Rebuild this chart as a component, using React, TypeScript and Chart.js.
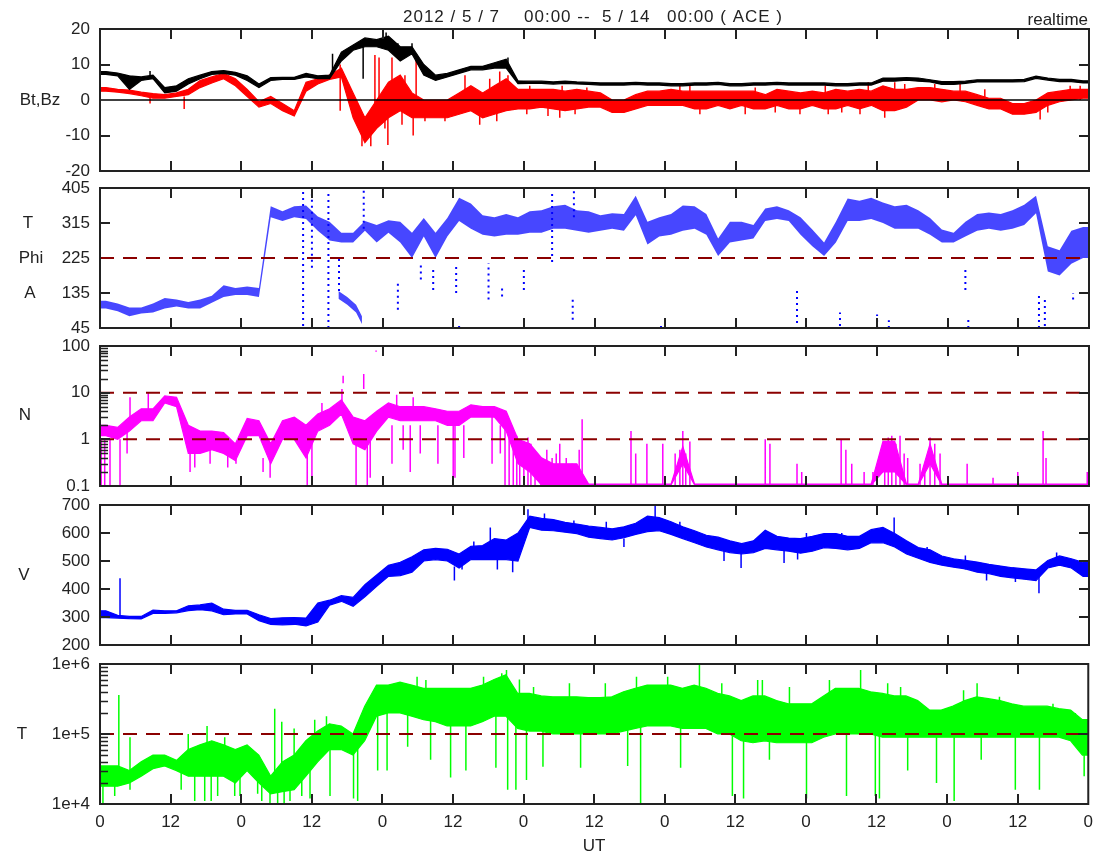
import { useEffect, useRef } from "react";
import { Chart, registerables } from "chart.js";

Chart.register(...registerables);

const FONT = "'Liberation Sans', Arial, sans-serif";
const FS = 17;
const INK = "#222";
const REF = "#8b0000";

// ---- time axis: hours since 2012-05-07 00:00 UT; series are read per 2-hour slot ----
const SLOT_H = 2;
const X_MAX = 168;
const xTickHours = [0, 12, 24, 36, 48, 60, 72, 84, 96, 108, 120, 132, 144, 156, 168];
const xTickLabels = ["0", "12", "0", "12", "0", "12", "0", "12", "0", "12", "0", "12", "0", "12", "0"];

const headerParts = ["2012 / 5 / 7", "00:00 --", "5 / 14", "00:00 ( ACE )"];
const cornerText = "realtime";

// ---- Bt / Bz (nT): body low / high per slot, plus narrow excursions [hour, from, to] ----
const btLo = [7.2, 6.8, 3, 5.5, 6, 2, 2.5, 4.5, 6, 7.2, 7.5, 7, 5.5, 3.5, 5.5, 5.8, 5.8, 6.5, 6, 6, 11, 14, 15, 15, 14, 11, 13, 7, 5.5, 6.5, 7.5, 8.5, 8.5, 9, 9, 4.6,
  4.7, 4.7, 4.5, 4.7, 4.5, 4.4, 4.2, 4.2, 4.2, 4.4, 4.2, 4.2,
  4, 4, 4.2, 4.2, 4.4, 4, 4, 4.2, 4.2, 4.4, 4.2, 4.2, 4.2, 4.2, 4, 4, 4.2, 4.2, 5.3, 5.3, 5.6, 5.3, 5.1, 4.4, 4.4, 4.7, 5.1, 5.1, 5.1, 5.1, 5.2, 6.1, 5.6, 5.2, 5.2, 4.8];
const btHi = [8, 7.6, 6.8, 6.5, 7, 3.5, 4, 6, 7, 8, 8.3, 7.8, 6.8, 4.5, 6.3, 6.4, 6.4, 7.5, 6.8, 7, 13.5, 15.5, 17.5, 17, 18, 15, 15, 10, 7, 7.5, 8.5, 9.5, 9.5, 10.5, 11.5, 5.4,
  5.3, 5.3, 5.1, 5.3, 5.1, 5, 4.8, 4.8, 4.8, 5, 4.8, 4.8,
  4.6, 4.6, 4.8, 4.8, 5, 4.6, 4.6, 4.8, 4.8, 5, 4.8, 4.8, 4.8, 4.8, 4.6, 4.6, 4.8, 4.8, 6.2, 6.2, 6.3, 6.2, 5.7, 5.2, 5.2, 5.3, 5.7, 5.7, 5.7, 5.7, 5.8, 6.7, 6.2, 5.8, 5.8, 5.4];
const btSpikes = [[44.7, 16, 6], [48.6, 16, 19], [50.6, 12, 16], [53, 13, 16], [69.3, 10, 12], [39.5, 8, 13], [8.5, 6.5, 8.2]];

const bzLo = [2.5, 2.2, 1.8, 1.2, 0.5, 0.5, 1, 1.5, 3.5, 4.8, 6, 4, 1, -2, -1, -3, -4.5, 2.5, 4.5, 5.8, 6.5, -5, -12, -8, -5, -3, -5, -5, -5, -5, -4, -3, -5, -4, -3, -2.5,
  -2.5, -2, -2.5, -3, -2.5, -2, -2, -3.5, -3.5, -2.5, -1.5, -1.5,
  -1.5, -1.5, -2.5, -2.5, -1.5, -2.5, -1.5, -2.5, -2.5, -1.5, -2.5, -2.5, -1.5, -2.5, -2.5, -1.5, -2.5, -1.5, -3, -3, -2, 0, 0, -0.5, 0, -0.5, -1.5, -2.5, -2.5, -4, -4, -3.5, -1.5, -0.5, 0, 0.5];
const bzHi = [3.5, 3, 2.8, 2.2, 1.8, 1.5, 2, 3, 5.5, 6.5, 7.5, 6, 3, -0.5, 1, -1, -3, 5, 6, 7, 9, 2, -5, 0, 5, 7, 2, 0, 0, 0, 2, 4, 2, 4, 6, 3,
  3, 3, 3, 2.5, 3, 2.5, 2, 0, 0, 1.5, 2.5, 2.5,
  3, 2.5, 2.5, 2.5, 2.5, 2.5, 2.5, 2.5, 1.5, 3, 2.5, 2, 2.5, 2, 3, 2.5, 3, 2.5, 4, 3, 3, 3.5, 3.5, 3, 2.5, 2.5, 1.5, 0.5, 0.5, -1, -1, 0, 2, 2.5, 3, 3];
const bzSpikes = [[8.5, 1, -1], [14.3, 1, -2.5], [40.8, -3, 10], [44.5, -8, -13], [46, -6, -13], [46.7, -2, 12.7], [47.4, 0, 12], [48.4, 0, -8],
  [48.9, 0, -12.7], [49.6, 0, 12], [51.3, 0, -7], [51.8, 0, 7], [53.2, -2, -10], [53.7, 0, 12], [55.2, -2, -6], [58.6, -2, -6], [62, 0, 7],
  [64.5, -2, -7], [66.2, 0, 6], [67.4, 0, -6], [67.9, 2, 8], [69.3, 2, 7], [72.5, 0, -4], [73, 0, 4], [76.1, 0, -4.5], [78.1, 0, -5],
  [78.5, 0, 4], [80.7, 0, -4], [82.7, 0, 3.5], [98.5, 0, 4], [100.2, 0, 4], [101.9, 0, -4], [109.6, 0, -4], [111.3, 0, 3.5], [114.7, 0, -3.5],
  [118.9, 0, -4], [123.2, 0, 4], [123.7, 0, -4], [126, 0, -3.5], [129.1, 0, -4], [130.5, 0, 5], [133.3, 0, -5], [135, 0, 5], [136.7, 0, 4.5],
  [141.8, 0, 4.5], [146.1, 0, 4.5], [150.3, 0, 3], [159.7, -2, -5.5], [161, 0, -3.5], [164.8, 0, 4], [166.5, 0, 4]];

// ---- Phi angle (deg) ----
const phiLo = [95, 88, 75, 82, 85, 95, 100, 95, 95, 110, 125, 130, 130, 125, 330, 320, 330, 325, 295, 270, 265, 265, 295, 265, 290, 265, 225, 280, 225, 280,
  320, 300, 285, 280, 285, 285, 290, 290, 300, 300, 295, 290, 295, 300, 295, 335, 260, 280, 285, 295, 300, 285, 230, 265, 270, 275, 320, 325, 320, 285,
  255, 230, 265, 320, 320, 325, 315, 300, 300, 300, 285, 265, 265, 280, 295, 300, 295, 300, 310, 340, 190, 180, 210, 225];
const phiHi = [115, 108, 98, 98, 108, 122, 118, 112, 118, 128, 155, 148, 152, 148, 358, 345, 358, 360, 332, 318, 290, 290, 320, 310, 322, 318, 290, 328, 290, 328,
  380, 365, 335, 330, 338, 330, 345, 348, 358, 362, 348, 345, 335, 340, 338, 385, 318, 330, 338, 360, 358, 338, 275, 318, 318, 310, 352, 358, 348, 330,
  298, 265, 318, 378, 372, 380, 368, 358, 362, 348, 328, 298, 290, 318, 338, 342, 338, 348, 362, 385, 255, 245, 295, 305];
// secondary (low) Phi branch around 7 May 17h-20h: [hour, low, high]
const phiBranch = [[40.5, 120, 140], [42, 105, 125], [43.5, 85, 105], [44.5, 55, 75]];
const phiStreaks = [[34.5, 50, 405], [36, 200, 400], [38.8, 45, 400], [40.6, 140, 230], [44.8, 300, 400], [50.6, 92, 160], [54.5, 170, 212],
  [56.6, 143, 195], [60.5, 135, 204], [61, 45, 60], [66, 118, 212], [68.3, 126, 150], [72, 143, 204], [76.8, 215, 390], [80.3, 66, 126],
  [80.5, 330, 400], [95.3, 45, 55], [118.4, 58, 150], [125.7, 50, 85], [132, 45, 80], [134, 45, 65], [147, 143, 204], [147.5, 45, 70],
  [159.5, 45, 135], [160.5, 50, 120], [165.3, 118, 135]];

// ---- N density (cm^-3) ----
const nLo = [1.2, 1, 1.5, 2.5, 2.5, 6, 5, 0.5, 0.5, 0.6, 0.5, 0.35, 1.2, 1.2, 0.3, 1, 1, 0.4, 1.5, 2, 3.5, 0.8, 0.6, 1.5, 3, 2.5, 2.5, 2.5, 2.5, 2,
  2, 3, 3, 3, 1.5, 0.3, 0.2, 0.105, 0.105, 0.105, 0.105, 0.105, 0.105, 0.105, 0.105, 0.105, 0.105, 0.105, 0.105, 0.3, 0.105, 0.105,
  0.105, 0.105, 0.105, 0.105, 0.105, 0.105, 0.105, 0.105, 0.105, 0.105, 0.105, 0.105, 0.105, 0.105, 0.2, 0.2, 0.105, 0.105, 0.3, 0.105,
  0.105, 0.105, 0.105, 0.105, 0.105, 0.105, 0.105, 0.105, 0.105, 0.105, 0.105, 0.105];
const nHi = [2, 1.8, 3, 4.5, 4.5, 8.5, 8, 2, 1.5, 1.5, 1.4, 0.8, 2.8, 2.5, 0.8, 2.5, 3, 2, 3.5, 4.5, 7, 3, 2.5, 4, 6, 5, 5, 5, 4.5, 4,
  4, 5.5, 5, 5, 4, 1, 0.8, 0.4, 0.3, 0.3, 0.3, 0.11, 0.11, 0.11, 0.11, 0.11, 0.11, 0.11, 0.11, 0.7, 0.11, 0.11,
  0.11, 0.11, 0.11, 0.11, 0.11, 0.11, 0.11, 0.11, 0.11, 0.11, 0.11, 0.11, 0.11, 0.11, 0.9, 0.9, 0.11, 0.11, 0.8, 0.11,
  0.11, 0.11, 0.11, 0.11, 0.11, 0.11, 0.11, 0.11, 0.11, 0.11, 0.11, 0.11];
const nSpikes = [[0.2, 1, 0.1], [0.8, 1, 0.1], [1.7, 1, 0.1], [3.4, 1, 0.1], [4.6, 1.5, 0.5], [5.1, 2, 8], [8.2, 3, 10], [15.3, 0.5, 0.2],
  [16.1, 0.5, 0.25], [18.7, 0.6, 0.3], [21.7, 0.5, 0.25], [23.1, 0.4, 0.3], [27.7, 0.4, 0.2], [28.9, 0.4, 0.15], [35.2, 0.5, 0.1],
  [36, 1, 0.1], [37.7, 3, 6], [41.1, 5, 12], [41.3, 16, 23], [43.5, 1, 0.1], [44.8, 12, 25], [45.4, 1, 0.1], [45.9, 1, 0.15],
  [46.9, 75, 80], [49.6, 2, 0.3], [50.4, 4, 9], [51.5, 2, 0.6], [52.7, 2, 0.2], [53.2, 4, 8], [54.4, 2, 0.5], [57.4, 2, 0.3],
  [60, 2, 0.1], [60.3, 2, 0.15], [61.8, 2, 0.4], [66.6, 3, 0.3], [68, 2, 0.5], [68.8, 2, 0.1], [69.5, 2, 0.1], [70.2, 1, 0.1],
  [70.8, 0.105, 1.2], [71.3, 0.105, 1], [72, 0.105, 0.9], [72.7, 0.105, 1.1], [73.2, 0.105, 0.8], [73.9, 0.105, 0.5], [74.9, 0.105, 0.3],
  [75.9, 0.105, 0.6], [76.8, 0.105, 0.4], [77.5, 0.105, 0.5], [78.1, 0.105, 0.8], [79.2, 0.105, 0.4], [80.2, 0.105, 0.3], [81.4, 0.105, 0.6],
  [81.9, 0.105, 2.7], [90.2, 0.105, 1.5], [91, 0.105, 0.5], [92.9, 0.105, 0.8], [95.6, 0.105, 0.8], [97.7, 0.105, 0.5], [98.5, 0.105, 0.6],
  [99, 0.105, 1.5], [99.5, 0.105, 0.5], [100.2, 0.105, 0.9], [113, 0.105, 1], [113.8, 0.105, 0.8], [118.4, 0.105, 0.3], [119.2, 0.105, 0.2],
  [125.9, 0.105, 1], [126.7, 0.105, 0.6], [127.7, 0.105, 0.3], [129.8, 0.105, 0.2], [131.3, 0.105, 0.2], [133.3, 0.105, 0.6],
  [133.9, 0.105, 1.1], [134.5, 0.105, 1.2], [135.2, 0.105, 0.8], [135.9, 0.105, 1.2], [136.6, 0.105, 0.5], [137.2, 0.105, 0.4],
  [139.3, 0.105, 0.3], [140.1, 0.105, 0.3], [141, 0.105, 1.1], [141.8, 0.105, 0.8], [142.7, 0.105, 0.5], [147.3, 0.105, 0.3],
  [151.7, 0.105, 0.15], [155.9, 0.105, 0.2], [160.2, 0.105, 1.5], [160.7, 0.105, 0.4], [167.7, 0.105, 0.2]];

// ---- V speed (km/s) ----
const vLo = [298, 296, 294, 293, 313, 313, 315, 323, 326, 322, 308, 311, 311, 287, 274, 272, 274, 268, 282, 342, 356, 338, 372, 410, 445, 448, 460, 500, 505, 500,
  475, 505, 505, 505, 505, 500, 620, 610, 608, 603, 598, 585, 580, 575, 583, 595, 605, 608, 595, 580, 565, 550, 540, 530, 525, 530, 545, 540, 535, 528,
  535, 548, 545, 540, 545, 565, 565, 550, 525, 510, 495, 485, 478, 472, 460, 455, 445, 440, 435, 430, 475, 485, 475, 445];
const vHi = [322, 306, 302, 302, 325, 322, 322, 340, 343, 350, 328, 324, 324, 308, 294, 297, 298, 296, 350, 360, 376, 370, 415, 450, 485, 495, 515, 540, 545, 542,
  525, 552, 555, 580, 575, 600, 660, 652, 648, 638, 632, 625, 620, 615, 622, 635, 660, 655, 640, 622, 608, 592, 585, 572, 562, 572, 610, 588, 582, 580,
  588, 598, 598, 588, 588, 612, 620, 598, 572, 548, 540, 518, 508, 502, 496, 488, 482, 476, 472, 468, 502, 518, 508, 495];
const vSpikes = [[3.4, 300, 438], [60.2, 480, 430], [66.3, 540, 620], [70.1, 520, 460], [72.7, 640, 685], [94.3, 630, 700], [108.9, 540, 475],
  [116.2, 550, 493], [134.9, 600, 655], [159.5, 450, 385], [63.5, 520, 570], [75.5, 630, 670], [80.5, 610, 645], [86, 600, 640],
  [98.5, 600, 640], [113.3, 560, 605], [120, 555, 600], [126, 560, 600], [140.5, 510, 550], [147, 470, 520], [162.5, 490, 530],
  [61.5, 500, 470], [67.5, 510, 470], [89, 580, 550], [106, 540, 500], [118.5, 540, 505], [150.6, 460, 430], [155.5, 450, 425]];

// ---- T temperature (K) ----
const tLo = [1.8e4, 1.8e4, 2e4, 2.5e4, 3.2e4, 3.5e4, 3e4, 2.5e4, 2.5e4, 2.5e4, 2.5e4, 2e4, 3e4, 2e4, 1.4e4, 1.5e4, 1.6e4, 2.5e4, 4e4, 6e4,
  6e4, 5e4, 8e4, 1.8e5, 2e5, 2e5, 1.8e5, 1.6e5, 1.5e5, 1.3e5, 1.3e5, 1.3e5, 1.5e5, 1.8e5, 1.8e5, 1.2e5, 1.1e5, 1.1e5, 1e5, 1e5,
  1e5, 1e5, 1e5, 1e5, 1.1e5, 1.2e5, 1.3e5, 1.3e5, 1.3e5, 1.2e5, 1.2e5, 1.2e5, 1e5, 1e5, 8e4, 7.5e4, 8e4, 7.5e4, 7.5e4, 7.5e4,
  7.5e4, 9e4, 1e5, 1e5, 1e5, 1e5, 9e4, 9e4, 9e4, 9e4, 9e4, 9e4, 9e4, 9e4, 9e4, 9e4, 9e4, 9e4, 9e4, 9e4, 9e4, 9e4, 8e4, 5e4];
const tHi = [3.5e4, 3.5e4, 3e4, 4e4, 5e4, 5e4, 4.2e4, 6e4, 7e4, 8e4, 7e4, 6e4, 7e4, 5e4, 2.5e4, 4e4, 5e4, 8e4, 1.1e5, 1.4e5,
  1.3e5, 1e5, 2.5e5, 5e5, 5e5, 5.5e5, 5e5, 4.5e5, 4.5e5, 4.5e5, 4.5e5, 4.5e5, 5e5, 6e5, 7e5, 3.8e5, 3.8e5, 3.5e5, 3.4e5, 3.4e5,
  3.4e5, 3.3e5, 3.3e5, 3.4e5, 4e5, 4.5e5, 5e5, 5e5, 5e5, 4.5e5, 5e5, 4.5e5, 3.8e5, 3.5e5, 3e5, 3.5e5, 3.5e5, 3e5, 2.7e5, 2.7e5,
  2.7e5, 3.5e5, 4.5e5, 4.5e5, 4.5e5, 4e5, 3.8e5, 3.5e5, 3.5e5, 3e5, 2.2e5, 2.2e5, 2.5e5, 3e5, 3.4e5, 3.2e5, 3e5, 2.7e5, 2.5e5, 2.5e5,
  2.5e5, 2.3e5, 2.2e5, 1.6e5];
const tSpikes = [[0.5, 2.5e4, 1e4], [2.5, 2.5e4, 1.3e4], [5.1, 2.5e4, 1.6e4], [13.8, 3.5e4, 1.6e4], [16.1, 4e4, 1.1e4], [17.8, 4e4, 1.1e4],
  [18.9, 4e4, 1.1e4], [20, 4e4, 1.3e4], [22.9, 4e4, 1.3e4], [23.8, 4e4, 1.3e4], [26.8, 3e4, 1.4e4], [27.5, 2e4, 1.1e4], [28.9, 2e4, 1e4],
  [30.2, 2e4, 1e4], [31.3, 2e4, 1e4], [32.3, 2e4, 1.1e4], [34.3, 4e4, 1.3e4], [35.7, 5e4, 1.2e4], [39.1, 8e4, 1.3e4], [43.1, 7e4, 1.2e4],
  [43.8, 7e4, 1.1e4], [47.2, 2e5, 3e4], [48.8, 2e5, 3e4], [52.3, 2e5, 6.6e4], [56.2, 2e5, 4.3e4], [59.6, 2e5, 2.4e4], [62.2, 2e5, 3e4],
  [67.3, 2e5, 3.3e4], [69.3, 2e5, 1.6e4], [70.7, 2e5, 1.6e4], [72.5, 2e5, 2.2e4], [75.3, 2e5, 3.4e4], [81.7, 2e5, 3.3e4], [89.7, 2e5, 3.5e4],
  [91.9, 2e5, 1e4], [98.7, 2e5, 3.3e4], [107.5, 2e5, 1.3e4], [109.4, 2e5, 1.2e4], [113.8, 1.5e5, 4.3e4], [120.1, 1.5e5, 1.2e4],
  [126.9, 2e5, 1.3e4], [131.8, 2e5, 1.3e4], [132.5, 2e5, 1.2e4], [137.3, 1.5e5, 3e4], [142.2, 1.5e5, 2e4], [145.2, 1.5e5, 1.1e4],
  [149.8, 1.5e5, 4.3e4], [155.6, 1.5e5, 1.6e4], [159.7, 1.5e5, 1.6e4], [167.3, 1e5, 2.5e4],
  [3.2, 3e4, 3.6e5], [5.1, 3e4, 9e4], [15, 4e4, 1e5], [18.2, 5e4, 1.3e5], [21.2, 4e4, 9e4], [29.7, 2e4, 2.3e5], [30.9, 2e4, 1.5e5],
  [33, 3e4, 1.2e5], [36.5, 5e4, 1.6e5], [38.5, 8e4, 1.8e5], [53.9, 3e5, 6.6e5], [55.4, 3e5, 5.9e5], [65.2, 3e5, 6.6e5], [68.3, 3e5, 7.4e5],
  [69.1, 3e5, 8.2e5], [71.3, 2e5, 6e5], [73.7, 2e5, 4.7e5], [79.8, 2e5, 5.3e5], [85.9, 2e5, 5.3e5], [91.2, 2e5, 6.6e5], [96.5, 2e5, 6.6e5],
  [101.9, 3e5, 1e6], [105.7, 2e5, 5.3e5], [111.8, 2e5, 5.9e5], [112.6, 2e5, 5.9e5], [117.2, 2e5, 4.7e5], [124, 2e5, 5.9e5],
  [129.3, 3e5, 8.2e5], [133.9, 2e5, 5.3e5], [136.1, 2e5, 4.7e5], [146.8, 2e5, 4.2e5], [149.1, 2e5, 5.3e5], [152.9, 2e5, 3.4e5],
  [162, 1.5e5, 2.7e5], [165.8, 1.2e5, 2e5]];

// ---- axis ticks ----
const bTicks = [-20, -10, 0, 10, 20];
const phiTicks = [45, 135, 225, 315, 405];
const nTicks = [0.1, 1, 10, 100];
const nTickLabels = ["0.1", "1", "10", "100"];
const nMinor = [0.2, 0.3, 0.4, 0.5, 0.6, 0.7, 0.8, 0.9, 2, 3, 4, 5, 6, 7, 8, 9, 20, 30, 40, 50, 60, 70, 80, 90];
const vTicks = [200, 300, 400, 500, 600, 700];
const tTicks = [1e4, 1e5, 1e6];
const tTickLabels = ["1e+4", "1e+5", "1e+6"];
const tMinor = [2e4, 3e4, 4e4, 5e4, 6e4, 7e4, 8e4, 9e4, 2e5, 3e5, 4e5, 5e5, 6e5, 7e5, 8e5, 9e5];

// ---- helpers ----
type Pt = { x: number; y: number | null };
const slotPts = (vals: number[]): Pt[] => {
  const pts: Pt[] = [{ x: 0, y: vals[0] }];
  vals.forEach((v, i) => pts.push({ x: i * SLOT_H + SLOT_H / 2, y: v }));
  pts.push({ x: X_MAX, y: vals[vals.length - 1] });
  return pts;
};
const rowPts = (rows: number[][], k: number): Pt[] => rows.map((r) => ({ x: r[0], y: r[k] }));
const segments = (list: number[][]): Pt[] =>
  list.flatMap(([h, a, b]) => [{ x: h, y: a }, { x: h, y: b }, { x: h, y: null }]);
const hline = (v: number): Pt[] => [{ x: 0, y: v }, { x: X_MAX, y: v }];
const ds = (data: Pt[], color: string, width: number, order: number, dash: number[] = []) => ({
  data, borderColor: color, backgroundColor: color, borderWidth: width, pointRadius: 0,
  tension: 0, order, borderDash: dash, fill: false, spanGaps: false,
});
const band = (hiPts: Pt[], loPts: Pt[], color: string, fillColor: string, width: number, order: number) => [
  { ...ds(hiPts, color, width, order), backgroundColor: fillColor, fill: "+1" },
  ds(loPts, color, width, order),
];

const PHI_FILL = "rgba(0,0,255,0.72)";

type Side = { text: string; x: number; v: number };
type PanelSpec = {
  top: number; bottom: number; yType: "linear" | "logarithmic"; yMin: number; yMax: number;
  yTicks: number[]; yLabels: string[]; yMarks: number[]; yMinor: number[]; rightMarks: number[];
  side: Side[]; datasets: () => any[]; showX: boolean; header: boolean;
};

const DASH = [14, 9];

const panels: PanelSpec[] = [
  {
    top: 29, bottom: 171, yType: "linear", yMin: -20, yMax: 20, yTicks: bTicks, yLabels: bTicks.map(String),
    yMarks: [10, -10], yMinor: [], rightMarks: [10, -10], side: [{ text: "Bt,Bz", x: 40, v: 0 }],
    datasets: () => [
      ds(hline(0), "#000", 1.5, 0),
      ...band(slotPts(btHi), slotPts(btLo), "#000", "#000", 1.2, 1),
      ds(segments(btSpikes), "#000", 1.5, 1),
      ...band(slotPts(bzHi), slotPts(bzLo), "#ff0000", "#ff0000", 1.2, 2),
      ds(segments(bzSpikes), "#ff0000", 1.5, 2),
    ],
    showX: false, header: true,
  },
  {
    top: 188, bottom: 328, yType: "linear", yMin: 45, yMax: 405, yTicks: phiTicks, yLabels: phiTicks.map(String),
    yMarks: [315, 135], yMinor: [], rightMarks: [315, 135],
    side: [{ text: "T", x: 28, v: 315 }, { text: "Phi", x: 31, v: 225 }, { text: "A", x: 30, v: 135 }],
    datasets: () => [
      ds(hline(225), REF, 2, 0, DASH),
      ...band(slotPts(phiHi), slotPts(phiLo), "#0000ff", PHI_FILL, 0, 1),
      ...band(rowPts(phiBranch, 2), rowPts(phiBranch, 1), "#0000ff", PHI_FILL, 0, 1),
      ds(segments(phiStreaks), "#0000ff", 2, 2, [2, 4]),
    ],
    showX: false, header: false,
  },
  {
    top: 346, bottom: 486, yType: "logarithmic", yMin: 0.1, yMax: 100, yTicks: nTicks, yLabels: nTickLabels,
    yMarks: [1, 10], yMinor: nMinor, rightMarks: [1, 10], side: [{ text: "N", x: 25, v: 3.2 }],
    datasets: () => [
      ds(hline(10), REF, 2, 0, DASH),
      ds(hline(1), REF, 2, 0, DASH),
      ...band(slotPts(nHi), slotPts(nLo), "#ff00ff", "#ff00ff", 1.2, 1),
      ds(segments(nSpikes), "#ff00ff", 1.5, 1),
    ],
    showX: false, header: false,
  },
  {
    top: 505, bottom: 645, yType: "linear", yMin: 200, yMax: 700, yTicks: vTicks, yLabels: vTicks.map(String),
    yMarks: [300, 400, 500, 600], yMinor: [], rightMarks: [300, 400, 500, 600], side: [{ text: "V", x: 24, v: 450 }],
    datasets: () => [
      ...band(slotPts(vHi), slotPts(vLo), "#0000ff", "#0000ff", 1.2, 1),
      ds(segments(vSpikes), "#0000ff", 1.5, 1),
    ],
    showX: false, header: false,
  },
  {
    top: 664, bottom: 804, yType: "logarithmic", yMin: 1e4, yMax: 1e6, yTicks: tTicks, yLabels: tTickLabels,
    yMarks: [1e5], yMinor: tMinor, rightMarks: [1e5], side: [{ text: "T", x: 22, v: 1e5 }],
    datasets: () => [
      ds(hline(1e5), REF, 2, 0, DASH),
      ...band(slotPts(tHi), slotPts(tLo), "#00ff00", "#00ff00", 1.2, 1),
      ds(segments(tSpikes), "#00ff00", 1.5, 1),
    ],
    showX: true, header: false,
  },
];

const makeFrame = (p: PanelSpec) => ({
  id: "frame",
  afterDatasetsDraw(chart: any) {
    const { ctx, chartArea: a, scales } = chart;
    const xs = scales.x;
    const ys = scales.y;
    ctx.save();
    ctx.strokeStyle = INK;
    ctx.lineWidth = 2;
    ctx.strokeRect(a.left, a.top, a.right - a.left, a.bottom - a.top);
    ctx.beginPath();
    for (const h of xTickHours) {
      if (h <= 0 || h >= X_MAX) continue;
      const px = Math.round(xs.getPixelForValue(h));
      ctx.moveTo(px, a.top); ctx.lineTo(px, a.top + 10);
      ctx.moveTo(px, a.bottom); ctx.lineTo(px, a.bottom - 10);
    }
    for (const v of p.yMarks) {
      const py = Math.round(ys.getPixelForValue(v));
      ctx.moveTo(a.left, py); ctx.lineTo(a.left + 10, py);
    }
    for (const v of p.rightMarks) {
      const py = Math.round(ys.getPixelForValue(v));
      ctx.moveTo(a.right, py); ctx.lineTo(a.right - 10, py);
    }
    ctx.stroke();
    if (p.yMinor.length) {
      ctx.lineWidth = 1.5;
      ctx.beginPath();
      for (const v of p.yMinor) {
        const py = Math.round(ys.getPixelForValue(v)) + 0.5;
        ctx.moveTo(a.left, py); ctx.lineTo(a.left + 8, py);
      }
      ctx.stroke();
    }
    ctx.fillStyle = INK;
    ctx.font = `${FS}px ${FONT}`;
    ctx.textAlign = "center";
    ctx.textBaseline = "middle";
    for (const s of p.side) ctx.fillText(s.text, s.x, ys.getPixelForValue(s.v));
    if (p.header) {
      ctx.textAlign = "left";
      try { (ctx as any).letterSpacing = "1px"; } catch (e) { /* ignore */ }
      const xs0 = [403, 524, 602, 667];
      headerParts.forEach((t, i) => ctx.fillText(t, xs0[i], 17));
      try { (ctx as any).letterSpacing = "0px"; } catch (e) { /* ignore */ }
      ctx.textAlign = "right";
      ctx.fillText(cornerText, 1088, 20);
    }
    ctx.restore();
  },
});

const buildConfig = (p: PanelSpec): any => ({
  type: "line",
  data: { datasets: p.datasets() },
  options: {
    animation: false,
    responsive: false,
    maintainAspectRatio: false,
    events: [],
    layout: { padding: { left: 0, right: 1101 - 1089, top: p.top, bottom: p.showX ? 0 : 857 - p.bottom } },
    plugins: { legend: { display: false }, tooltip: { enabled: false }, title: { display: false } },
    scales: {
      x: {
        type: "linear", min: 0, max: X_MAX, display: p.showX,
        afterFit: (s: any) => { if (p.showX) s.height = 857 - p.bottom; },
        afterBuildTicks: (s: any) => { s.ticks = xTickHours.map((v) => ({ value: v })); },
        ticks: {
          autoSkip: false, maxRotation: 0, padding: 8, color: INK, font: { family: FONT, size: FS },
          callback: (v: number) => xTickLabels[xTickHours.indexOf(v)] ?? "",
        },
        grid: { display: false, drawTicks: false },
        border: { display: false },
        title: { display: true, text: "UT", color: INK, font: { family: FONT, size: FS }, padding: { top: 0, bottom: 0 } },
      },
      y: {
        type: p.yType, min: p.yMin, max: p.yMax,
        afterFit: (s: any) => { s.width = 100; },
        afterBuildTicks: (s: any) => { s.ticks = p.yTicks.map((v) => ({ value: v })); },
        ticks: {
          autoSkip: false, padding: 10, color: INK, font: { family: FONT, size: FS },
          callback: (v: number) => p.yLabels[p.yTicks.indexOf(v)] ?? "",
        },
        grid: { display: false, drawTicks: false },
        border: { display: false },
      },
    },
  },
  plugins: [makeFrame(p)],
});

export default function App() {
  const refs = useRef<(HTMLCanvasElement | null)[]>([]);
  useEffect(() => {
    const charts = panels.map((p, i) => new Chart(refs.current[i] as HTMLCanvasElement, buildConfig(p)));
    return () => charts.forEach((c) => c.destroy());
  }, []);
  return (
    <div style={{ position: "absolute", left: 0, top: 0, width: 1101, height: 857, background: "#fff" }}>
      {panels.map((_, i) => (
        <canvas
          key={i}
          ref={(el) => { refs.current[i] = el; }}
          width={1101}
          height={857}
          style={{ position: "absolute", left: 0, top: 0, width: 1101, height: 857 }}
        />
      ))}
    </div>
  );
}
